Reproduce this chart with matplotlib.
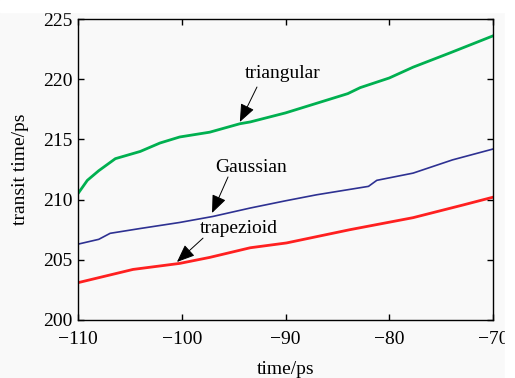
import matplotlib
matplotlib.use("Agg")
import matplotlib.pyplot as plt
from matplotlib.patches import Rectangle

tri_x = [-110, -109.1, -108, -106.4, -104, -102.1, -100.2, -97.3, -94.4, -93.4, -90, -87, -84, -82.8, -80, -77.7, -74.1, -70]
tri_y = [210.5, 211.6, 212.4, 213.4, 214.0, 214.7, 215.2, 215.6, 216.3, 216.45, 217.2, 218.0, 218.8, 219.3, 220.1, 221.0, 222.2, 223.6]

gau_x = [-110, -108, -106.9, -104, -100.2, -97, -93.4, -90, -87, -82, -81.2, -77.7, -73.9, -70]
gau_y = [206.3, 206.7, 207.2, 207.6, 208.1, 208.6, 209.3, 209.9, 210.4, 211.1, 211.6, 212.2, 213.3, 214.2]

trap_x = [-110, -104.7, -100.2, -97.3, -93.4, -89.9, -83.8, -77.7, -72.9, -70]
trap_y = [203.1, 204.2, 204.7, 205.2, 206.0, 206.4, 207.5, 208.5, 209.55, 210.2]

xticks = [-110, -100, -90, -80, -70]
yticks = [200, 205, 210, 215, 220, 225]

plt.rcParams['font.family'] = ['Liberation Serif', 'DejaVu Serif']
plt.rcParams['axes.unicode_minus'] = True

fig = plt.figure(figsize=(5.15, 3.78), dpi=100, facecolor='#f9f9f9')
fig.patches.append(Rectangle((0, 1 - 12/378), 1, 12/378, transform=fig.transFigure, color='white', zorder=0))
fig.patches.append(Rectangle((505/515, 0), 10/515, 1, transform=fig.transFigure, color='white', zorder=0))
ax = fig.add_axes([78/515, 58/378, 415/515, 301/378])
ax.set_facecolor('#f9f9f9')

ax.plot(tri_x, tri_y, color='#00b050', lw=2.0)
ax.plot(gau_x, gau_y, color='#2e3192', lw=1.2)
ax.plot(trap_x, trap_y, color='#ff2020', lw=2.0)

ax.set_xlim(-110, -70)
ax.set_ylim(200, 225)
ax.set_xticks(xticks)
ax.set_yticks(yticks)
ax.tick_params(direction='in', top=True, right=True, labelsize=14, length=4, width=1)
ax.tick_params(axis='x', pad=8)
ax.tick_params(axis='y', pad=4)
for s in ax.spines.values():
    s.set_linewidth(1.0)
ax.set_xlabel('time/ps', fontsize=14, labelpad=9)
ax.set_ylabel('transit time/ps', fontsize=14, labelpad=10)

ap = dict(arrowstyle='-|>,head_length=1.1,head_width=0.45', color='black', lw=0.7,
          shrinkA=0, shrinkB=0, mutation_scale=10)
ax.text(-90.3, 220.5, 'triangular', fontsize=14, ha='center', va='center')
ax.annotate('', xy=(-94.4, 216.45), xytext=(-92.75, 219.35), arrowprops=ap)
ax.text(-93.3, 212.7, 'Gaussian', fontsize=14, ha='center', va='center')
ax.annotate('', xy=(-97.08, 208.89), xytext=(-95.54, 211.88), arrowprops=ap)
ax.text(-94.5, 207.6, 'trapezioid', fontsize=14, ha='center', va='center')
ax.annotate('', xy=(-100.46, 204.82), xytext=(-97.95, 206.8), arrowprops=ap)

fig.savefig('out.png', dpi=100, facecolor=fig.get_facecolor())
